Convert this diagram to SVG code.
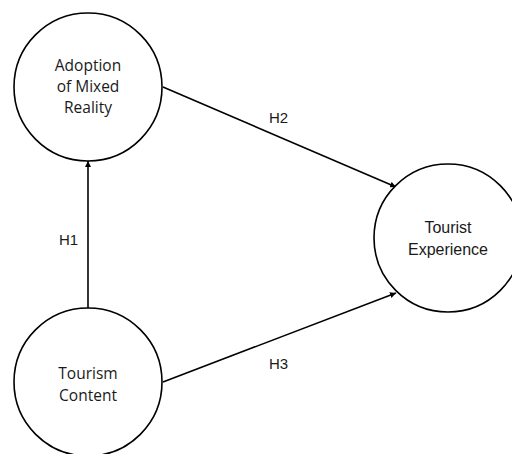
<svg xmlns="http://www.w3.org/2000/svg" width="512" height="454" viewBox="0 0 512 454">
<style>
.node{fill:#fff;stroke:#000;stroke-width:1.6}
.lbl{font-family:"Open Sans","Liberation Sans",sans-serif;font-size:15.5px;fill:#1a1a1a;text-anchor:middle}
.lbl2{font-family:"Liberation Sans",Arial,sans-serif;font-size:16px;fill:#1a1a1a;text-anchor:middle}
.h{font-family:"Liberation Sans",Arial,sans-serif;font-size:15px;fill:#1a1a1a;text-anchor:middle}
.edge{stroke:#000;stroke-width:1.6;fill:none;marker-end:url(#arr)}
</style>
<defs>
<marker id="arr" viewBox="0 0 10 10" refX="10" refY="5" markerWidth="6" markerHeight="6" markerUnits="userSpaceOnUse" orient="auto">
<path d="M0,0 L10,5 L0,10 z" fill="#000"/>
</marker>
</defs>
<rect width="512" height="454" fill="#fff"/>
<g id="connectors">
<line class="edge" x1="88" y1="308" x2="88" y2="161"/>
<line class="edge" x1="163" y1="87" x2="396" y2="187"/>
<line class="edge" x1="163" y1="382" x2="396" y2="293"/>
<text class="h" x="68.5" y="245">H1</text>
<text class="h" x="278.5" y="123">H2</text>
<text class="h" x="278.5" y="369">H3</text>
</g>
<g id="adoption">
<circle class="node" cx="88" cy="87" r="74"/>
<text class="lbl" x="88" y="71">Adoption</text>
<text class="lbl" x="88" y="92">of Mixed</text>
<text class="lbl" x="88" y="113">Reality</text>
</g>
<g id="tourism-content">
<circle class="node" cx="88" cy="382" r="74"/>
<text class="lbl" x="88" y="379">Tourism</text>
<text class="lbl" x="88" y="401">Content</text>
</g>
<g id="tourist-experience">
<circle class="node" cx="448" cy="238" r="74"/>
<text class="lbl2" x="448" y="233">Tourist</text>
<text class="lbl2" x="448" y="255">Experience</text>
</g>
</svg>
